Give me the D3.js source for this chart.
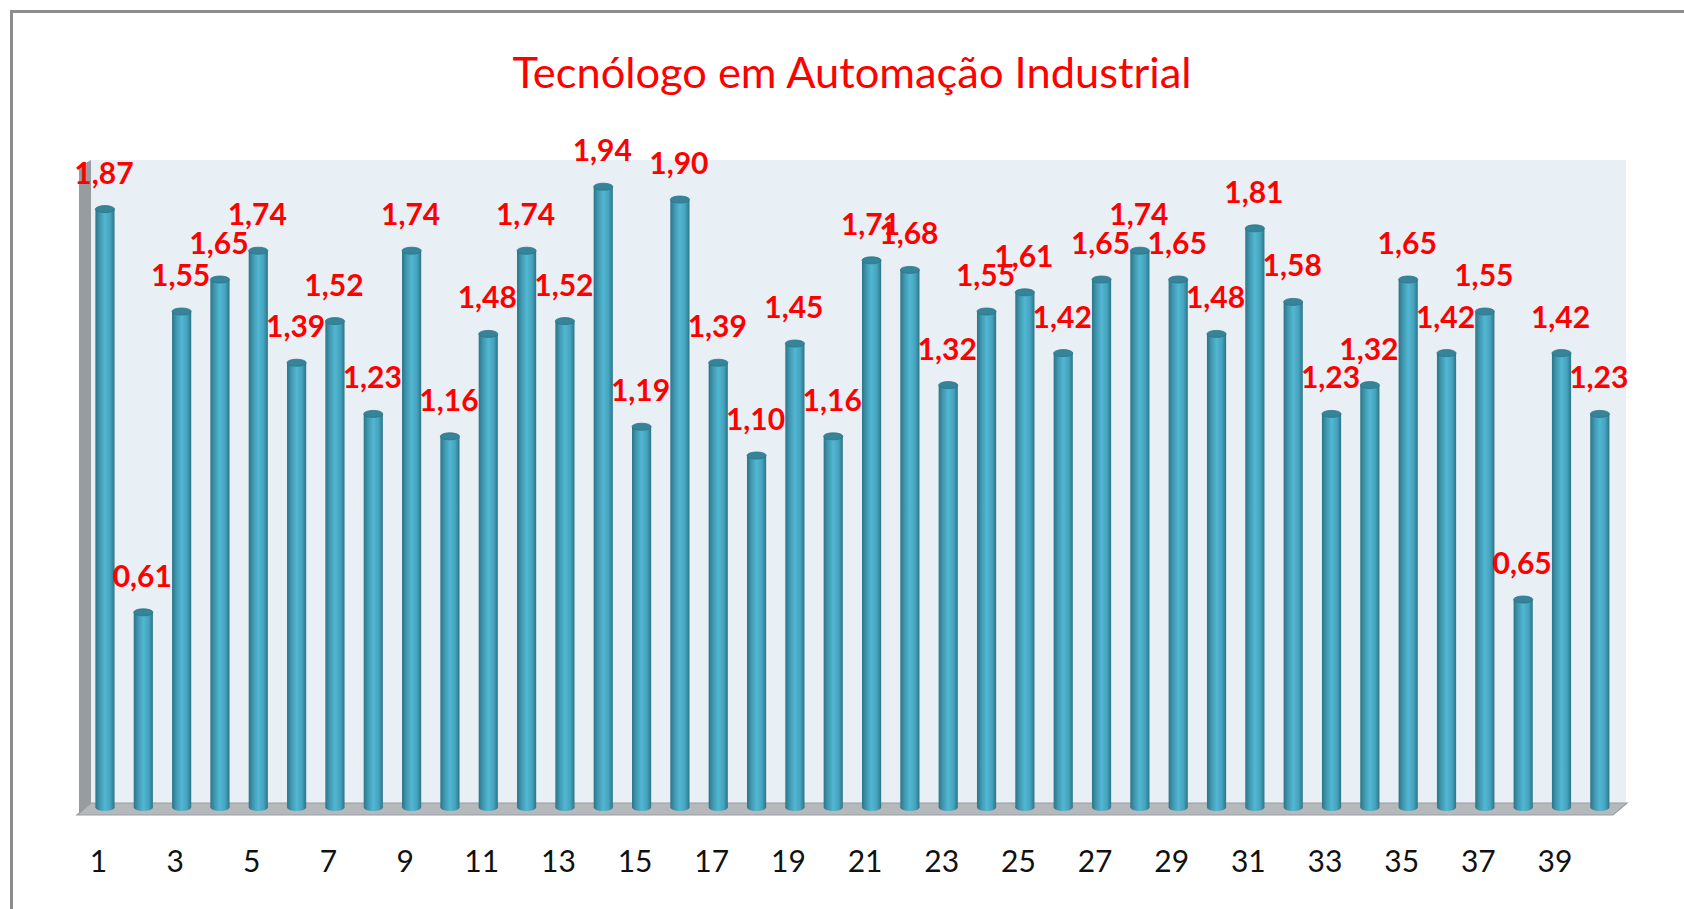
<!DOCTYPE html>
<html>
<head>
<meta charset="utf-8">
<script src="https://cdn.jsdelivr.net/npm/d3@7"></script>
<style>
  body { margin: 0; background: #fff; }
</style>
</head>
<body>
<div id="chart"></div>
<script>

var title = "Tecnólogo em Automação Industrial"

var categories = d3.range(1, 41)

var values = [1.87, 0.61, 1.55, 1.65, 1.74, 1.39, 1.52, 1.23, 1.74, 1.16,
  1.48, 1.74, 1.52, 1.94, 1.19, 1.90, 1.39, 1.10, 1.45, 1.16,
  1.71, 1.68, 1.32, 1.55, 1.61, 1.42, 1.65, 1.74, 1.65, 1.48,
  1.81, 1.58, 1.23, 1.32, 1.65, 1.42, 1.55, 0.65, 1.42, 1.23]

var tickLabels = d3.range(1, 41, 2)

var yDomain = [0, 2]

function draw_bars(containerWidth, containerHeight) {

  var data = categories.map(function (c, i) { return { cat: c, val: values[i] } })

  var svg = d3.select("#chart")
    .append("svg")
    .attr("width", containerWidth)
    .attr("height", containerHeight)

  var defs = svg.append("defs")
  var grad = defs.append("linearGradient")
    .attr("id", "cyl")
    .attr("x1", "0%").attr("x2", "100%")
    .attr("y1", "0%").attr("y2", "0%")
  grad.append("stop").attr("offset", "0%").attr("stop-color", "#2c7488")
  grad.append("stop").attr("offset", "22%").attr("stop-color", "#3f97af")
  grad.append("stop").attr("offset", "50%").attr("stop-color", "#52b7d3")
  grad.append("stop").attr("offset", "78%").attr("stop-color", "#45a3bd")
  grad.append("stop").attr("offset", "100%").attr("stop-color", "#2c7488")

  // outer frame (runs off the right and bottom edge)
  svg.append("rect")
    .attr("x", 11.5)
    .attr("y", 11.5)
    .attr("width", containerWidth + 20)
    .attr("height", containerHeight + 20)
    .attr("fill", "#fff")
    .attr("stroke", "#8c8c8c")
    .attr("stroke-width", 3)

  var xScale = d3.scaleBand()
    .domain(categories)
    .range([85.8, 1619])
    .paddingInner(0.5)
    .paddingOuter(0.25)

  var yScale = d3.scaleLinear()
    .domain(yDomain)
    .range([804, 164])

  var wallLeft = 91, wallRight = 1626, wallTop = yScale(yDomain[1]) - 4, floorTop = 803, floorBot = 815, depth = 13

  // back wall
  svg.append("rect")
    .attr("x", wallLeft)
    .attr("y", wallTop)
    .attr("width", wallRight - wallLeft)
    .attr("height", floorTop - wallTop)
    .attr("fill", "#e8eff5")

  // side wall
  svg.append("polygon")
    .attr("points", [[wallLeft - depth + 1, wallTop + 7], [wallLeft, wallTop], [wallLeft, floorTop], [wallLeft - depth + 1, floorBot]].join(" "))
    .attr("fill", "#979ca0")

  // floor
  svg.append("polygon")
    .attr("points", [[wallLeft - depth - 1, floorBot], [wallLeft, floorTop], [wallRight + 1, floorTop], [wallRight - depth, floorBot]].join(" "))
    .attr("fill", "#b5b9bc")
    .attr("stroke", "#9a9ea1")
    .attr("stroke-width", 1.2)

  var bw = xScale.bandwidth()
  var ry = 3.5

  var g = svg.append("g")

  var bars = g.selectAll(".bar")
    .data(data)
    .enter()
    .append("g")
    .attr("class", "bar")

  bars.append("rect")
    .attr("x", function (d) { return xScale(d.cat) })
    .attr("y", function (d) { return yScale(d.val) + ry })
    .attr("width", bw)
    .attr("height", function (d) { return yScale(0) - yScale(d.val) })
    .attr("fill", "url(#cyl)")

  bars.append("ellipse")
    .attr("cx", function (d) { return xScale(d.cat) + bw / 2 })
    .attr("cy", yScale(0) + ry)
    .attr("rx", bw / 2)
    .attr("ry", ry)
    .attr("fill", "url(#cyl)")

  bars.append("ellipse")
    .attr("cx", function (d) { return xScale(d.cat) + bw / 2 })
    .attr("cy", function (d) { return yScale(d.val) + ry })
    .attr("rx", bw / 2)
    .attr("ry", ry)
    .attr("fill", "#35849a")
    .attr("stroke", "#2d7285")
    .attr("stroke-width", 0.8)

  // value labels
  g.selectAll(".lbl")
    .data(data)
    .enter()
    .append("text")
    .attr("class", "lbl")
    .attr("x", function (d) { return xScale(d.cat) + bw / 2 - 1 })
    .attr("y", function (d) { return yScale(d.val) - 22 })
    .attr("text-anchor", "middle")
    .attr("font-family", "Lato, 'Open Sans', sans-serif")
    .attr("font-weight", "bold")
    .attr("font-size", "30px")
    .attr("fill", "#ff0000")
    .text(function (d) { return d3.format(".2f")(d.val).replace(".", ",") })

  // category axis
  var xAxis = d3.axisBottom(xScale)
    .tickValues(tickLabels)
    .tickSize(0)
    .tickPadding(0)

  var ax = svg.append("g")
    .attr("class", "axis--x")
    .attr("transform", "translate(-6.5, 872)")
    .call(xAxis)
  ax.select(".domain").remove()
  ax.selectAll("text")
    .attr("dy", 0)
    .attr("y", 0)
    .attr("font-family", "Lato, 'Open Sans', sans-serif")
    .attr("font-size", "30px")
    .attr("fill", "#111")

  svg.append("text")
    .attr("x", 852)
    .attr("y", 88)
    .attr("text-anchor", "middle")
    .attr("font-family", "Lato, 'Open Sans', sans-serif")
    .attr("font-size", "42px")
    .attr("fill", "#ff0000")
    .attr("textLength", 679)
    .attr("lengthAdjust", "spacingAndGlyphs")
    .text(title)
}

draw_bars(1684, 909)

</script>
</body>
</html>
